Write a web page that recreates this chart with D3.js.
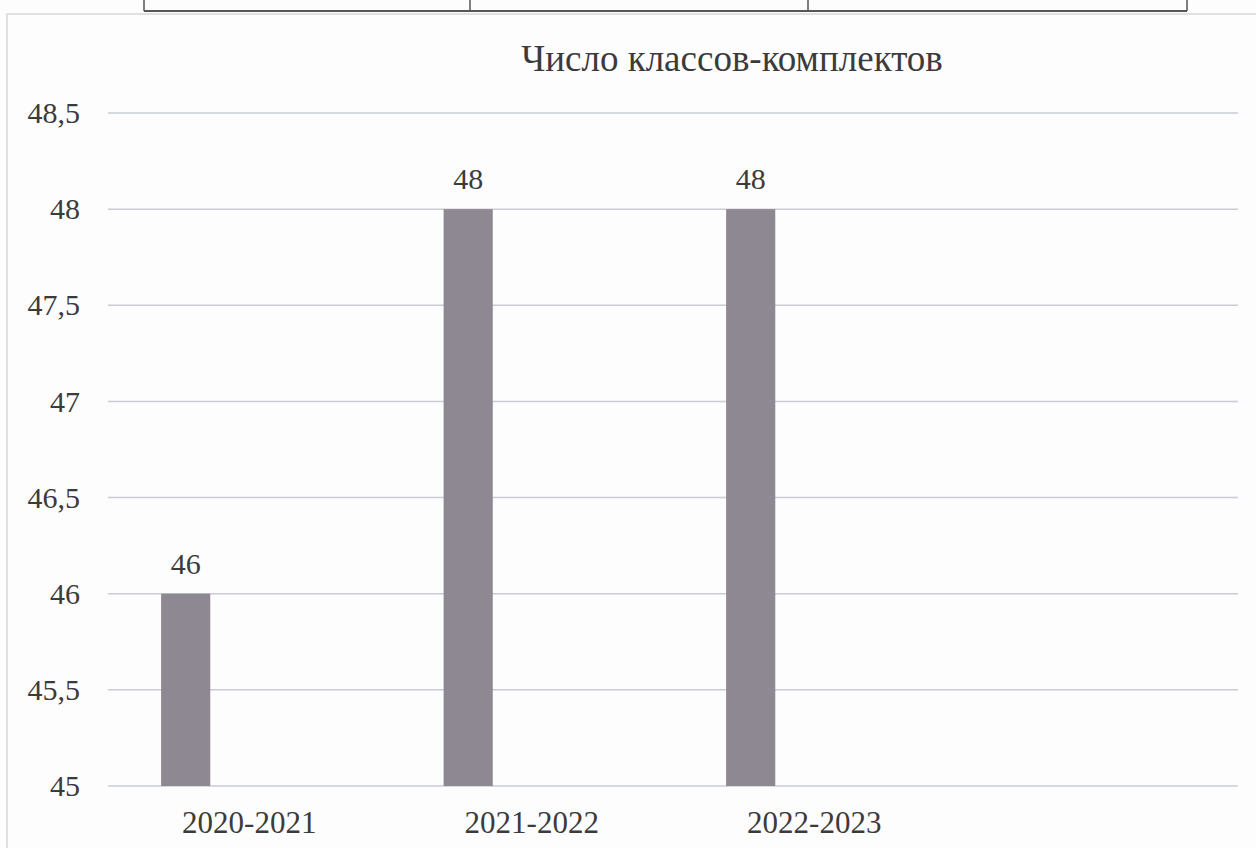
<!DOCTYPE html>
<html>
<head>
<meta charset="utf-8">
<script src="https://cdn.jsdelivr.net/npm/d3@7/dist/d3.min.js"></script>
<style>
  html, body { margin: 0; padding: 0; background: #fdfdfd; }
  svg { display: block; }
  text { font-family: "Liberation Serif", "Times New Roman", serif; fill: #3b3b3b; }
</style>
</head>
<body>
<svg id="chart" width="1256" height="848"></svg>
<script>
const title = "Число классов-комплектов";
const categories = ["2020-2021", "2021-2022", "2022-2023", ""];
const values = [46, 48, 48, null];
const yTicks = [45, 45.5, 46, 46.5, 47, 47.5, 48, 48.5];

const svg = d3.select("#chart");
const W = 1256, H = 848;
const margin = { left: 108, right: 18, top: 113, bottom: 62 };
const serif = '"Liberation Serif", "Times New Roman", serif';

// fragment of the table above the chart
const tableCols = [144, 470, 808, 1187];
svg.append("line").attr("x1", tableCols[0]).attr("x2", tableCols[3])
  .attr("y1", 11).attr("y2", 11).attr("stroke", "#555").attr("stroke-width", 2);
tableCols.forEach(cx => svg.append("line").attr("x1", cx).attr("x2", cx)
  .attr("y1", 0).attr("y2", 11).attr("stroke", "#555").attr("stroke-width", 1.5));

// chart border
svg.append("rect").attr("x", 7).attr("y", 14).attr("width", W).attr("height", H)
  .attr("fill", "none").attr("stroke", "#d6d6d6").attr("stroke-width", 1.5);

const x = d3.scaleBand().domain(categories.map((c, i) => i))
  .range([margin.left, W - margin.right]).padding(0);
const y = d3.scaleLinear().domain([45, 48.5]).range([H - margin.bottom, margin.top]);

// gridlines
svg.append("g").selectAll("line").data(yTicks).join("line")
  .attr("x1", margin.left).attr("x2", W - margin.right)
  .attr("y1", d => y(d)).attr("y2", d => y(d))
  .attr("stroke", "#c9ccd3").attr("stroke-width", 1.5);

// y axis labels
const yAxis = d3.axisLeft(y).tickValues(yTicks).tickSize(0).tickPadding(28)
  .tickFormat(d => String(d).replace(".", ","));
const gy = svg.append("g").attr("transform", `translate(${margin.left},0)`).call(yAxis);
gy.attr("font-family", null);
gy.select(".domain").remove();
gy.selectAll("text").attr("font-size", 30).attr("fill", "#3b3b3b")
  .style("font-family", serif);

// x axis labels
const xAxis = d3.axisBottom(x).tickSize(0).tickPadding(25)
  .tickFormat(i => categories[i]);
const gx = svg.append("g").attr("transform", `translate(0,${y(45)})`).call(xAxis);
gx.attr("font-family", null);
gx.select(".domain").remove();
gx.selectAll("text").attr("font-size", 31).attr("fill", "#3b3b3b")
  .style("font-family", serif);

// bars
const data = categories.map((c, i) => ({ i, c, v: values[i] })).filter(d => d.v != null);
const bx = d => x(d.i) + x.bandwidth() * 0.188;
const bw = x.bandwidth() * 0.174;
svg.append("g").selectAll("rect").data(data).join("rect")
  .attr("x", bx).attr("width", bw)
  .attr("y", d => y(d.v)).attr("height", d => y(45) - y(d.v))
  .attr("fill", "#8d8891");

// value labels
svg.append("g").selectAll("text").data(data).join("text")
  .attr("x", d => bx(d) + bw / 2).attr("y", d => y(d.v) - 20)
  .attr("text-anchor", "middle").attr("font-size", 30)
  .style("font-family", serif)
  .text(d => d.v);

// title
svg.append("text").attr("x", 732).attr("y", 71).attr("text-anchor", "middle")
  .attr("font-size", 37).style("font-family", serif).text(title);
</script>
</body>
</html>
